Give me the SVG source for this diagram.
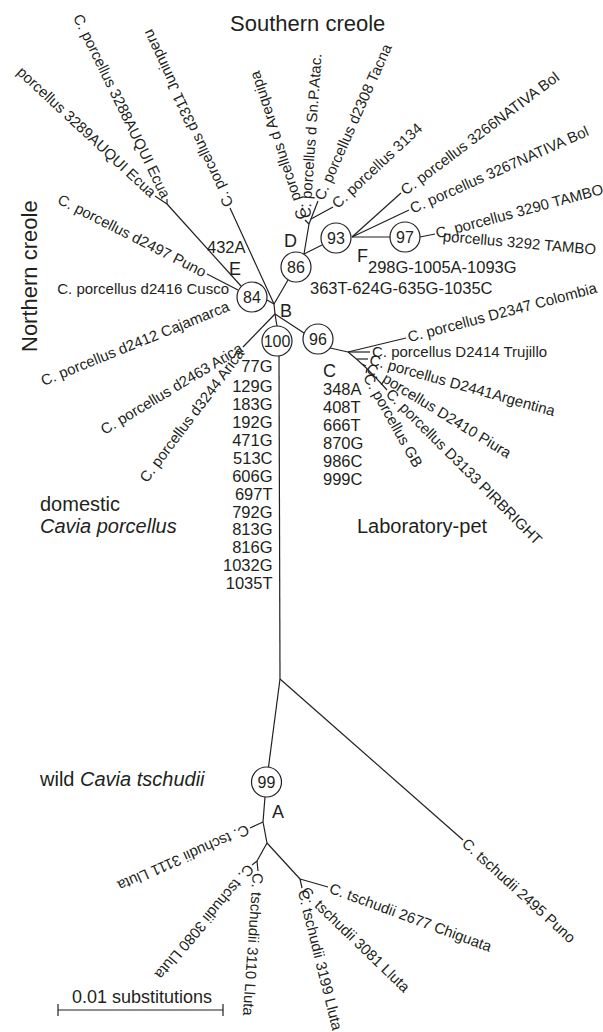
<svg xmlns="http://www.w3.org/2000/svg" width="603" height="1032" viewBox="0 0 603 1032">
<style>
text{font-family:"Liberation Sans",Arial,Helvetica,sans-serif;fill:#231f20}
.l{font-size:15px}
.e{text-anchor:end}
.m{font-size:16.5px}
.r{text-anchor:end}
.n{font-size:18px}
.g{font-size:22px}
.h{font-size:20px}
.b{font-size:16px;text-anchor:middle}
.c{fill:#fff;stroke:#231f20;stroke-width:1.2}
#connectors line,#connectors polyline,#connectors path{stroke:#231f20;stroke-width:1.2;fill:none}
</style>
<rect width="603" height="1032" fill="#fff"/>
<g id="connectors">
<line x1="279" y1="356" x2="280" y2="679"/>
<line x1="280" y1="679" x2="268.5" y2="767"/>
<line x1="280" y1="679" x2="463" y2="840"/>
<line x1="274" y1="304" x2="275" y2="314"/>
<line x1="275" y1="314" x2="277" y2="326"/>
<line x1="275" y1="314" x2="304" y2="333"/>
<line x1="275" y1="314" x2="243" y2="347"/>
<line x1="267" y1="300" x2="274" y2="304"/>
<line x1="288" y1="280" x2="274" y2="304"/>
<line x1="230" y1="208" x2="274" y2="304"/>
<line x1="241" y1="286" x2="167" y2="204"/>
<line x1="167" y1="204" x2="155" y2="196"/>
<line x1="167" y1="204" x2="167" y2="199"/>
<line x1="207" y1="274" x2="238" y2="290"/>
<line x1="304" y1="254" x2="322" y2="245"/>
<line x1="304" y1="254" x2="309" y2="224"/>
<line x1="309" y1="224" x2="318" y2="201"/>
<line x1="311" y1="219" x2="333" y2="207"/>
<line x1="309" y1="224" x2="305" y2="220"/>
<line x1="352" y1="237" x2="401" y2="193"/>
<line x1="352" y1="237" x2="409" y2="210"/>
<line x1="352" y1="237" x2="390" y2="237"/>
<line x1="420" y1="237" x2="435" y2="234"/>
<line x1="330" y1="348" x2="348" y2="352"/>
<line x1="348" y1="352" x2="406" y2="338"/>
<line x1="348" y1="352" x2="370" y2="352"/>
<path d="M348,352 Q366,366 387,390"/>
<line x1="357" y1="359" x2="368" y2="359"/>
<line x1="362" y1="364" x2="366" y2="366"/>
<line x1="367" y1="369" x2="366" y2="373"/>
<line x1="265" y1="797" x2="263" y2="822"/>
<line x1="263" y1="822" x2="267" y2="843"/>
<line x1="263" y1="822" x2="250" y2="828"/>
<line x1="267" y1="843" x2="257" y2="861"/>
<line x1="257" y1="861" x2="252" y2="865"/>
<line x1="257" y1="861" x2="258" y2="871"/>
<line x1="267" y1="843" x2="300" y2="879"/>
<line x1="300" y1="879" x2="328" y2="887"/>
<line x1="300" y1="879" x2="302" y2="888"/>
<line x1="58" y1="1010" x2="223" y2="1010"/>
<line x1="58" y1="1004" x2="58" y2="1016"/>
<line x1="223" y1="1004" x2="223" y2="1016"/>
</g>
<g id="node-100"><circle class="c" cx="277" cy="341" r="15"/><text class="b" x="277" y="347">100</text></g>
<g id="node-96"><circle class="c" cx="318" cy="339" r="15"/><text class="b" x="318" y="345">96</text></g>
<g id="node-84"><circle class="c" cx="252" cy="297" r="15"/><text class="b" x="252" y="303">84</text></g>
<g id="node-86"><circle class="c" cx="296" cy="267" r="15"/><text class="b" x="296" y="273">86</text></g>
<g id="node-93"><circle class="c" cx="336" cy="238" r="15"/><text class="b" x="336" y="244">93</text></g>
<g id="node-97"><circle class="c" cx="405" cy="237" r="15"/><text class="b" x="405" y="243">97</text></g>
<g id="node-99"><circle class="c" cx="266.5" cy="782" r="15"/><text class="b" x="266.5" y="788">99</text></g>
<g id="clade-labels">
<text class="n" x="272" y="818">A</text>
<text class="n" x="280" y="317">B</text>
<text class="n" x="323" y="377">C</text>
<text class="n" x="284" y="247">D</text>
<text class="n" x="229" y="275">E</text>
<text class="n" x="357" y="262">F</text>
</g>
<g id="mutations-A">
<text class="m r" x="272.5" y="372">77G</text>
<text class="m r" x="272.5" y="392">129G</text>
<text class="m r" x="272.5" y="410">183G</text>
<text class="m r" x="272.5" y="428">192G</text>
<text class="m r" x="272.5" y="446">471G</text>
<text class="m r" x="272.5" y="464">513C</text>
<text class="m r" x="272.5" y="482">606G</text>
<text class="m r" x="272.5" y="500">697T</text>
<text class="m r" x="272.5" y="518">792G</text>
<text class="m r" x="272.5" y="535">813G</text>
<text class="m r" x="272.5" y="553">816G</text>
<text class="m r" x="272.5" y="571">1032G</text>
<text class="m r" x="272.5" y="589">1035T</text>
</g>
<g id="mutations-C">
<text class="m" x="323" y="395">348A</text>
<text class="m" x="323" y="413">408T</text>
<text class="m" x="323" y="431">666T</text>
<text class="m" x="323" y="449">870G</text>
<text class="m" x="323" y="467">986C</text>
<text class="m" x="323" y="485">999C</text>
</g>
<g id="mutations-other">
<text class="m" x="207" y="253">432A</text>
<text class="m" x="368" y="273">298G-1005A-1093G</text>
<text class="m" x="310" y="294">363T-624G-635G-1035C</text>
</g>
<g id="group-labels">
<text class="g" x="230" y="31">Southern creole</text>
<text class="g" transform="translate(37,352) rotate(-90)">Northern creole</text>
<text class="h" x="40" y="511">domestic</text>
<text class="h" x="40" y="533" font-style="italic">Cavia porcellus</text>
<text class="h" x="357" y="533">Laboratory-pet</text>
<text class="h" x="40" y="786">wild <tspan font-style="italic">Cavia tschudii</tspan></text>
</g>
<g id="leaf-tacna"><text class="l" transform="translate(318,201) rotate(-66)" x="2" y="5">C. porcellus d2308 Tacna</text></g>
<g id="leaf-3134"><text class="l" transform="translate(333,207) rotate(-43)" x="2" y="5">C. porcellus 3134</text></g>
<g id="leaf-snpatac"><text class="l" transform="translate(305,220) rotate(-86)" x="2" y="5">C. porcellus d Sn.P.Atac.</text></g>
<g id="leaf-arequipa"><text class="l" transform="translate(303,221) rotate(-108)" x="2" y="5">C. porcellus d Arequipa</text></g>
<g id="leaf-juninperu"><text class="l" transform="translate(230,208) rotate(-115)" x="2" y="5">C. porcellus d3311 Juninperu</text></g>
<g id="leaf-3266"><text class="l" transform="translate(401,193) rotate(-37)" x="2" y="5">C. porcellus 3266NATIVA Bol</text></g>
<g id="leaf-3267"><text class="l" transform="translate(409,210) rotate(-24)" x="2" y="5">C. porcellus 3267NATIVA Bol</text></g>
<g id="leaf-3290"><text class="l" transform="translate(435,234) rotate(-15)" x="1" y="5" font-size="14.6">C. porcellus 3290 TAMBO</text></g>
<g id="leaf-3292"><text class="l" transform="translate(441,236) rotate(5)" x="2" y="5">porcellus 3292 TAMBO</text></g>
<g id="leaf-colombia"><text class="l" transform="translate(406,338) rotate(-14.8)" x="2" y="5">C. porcellus D2347 Colombia</text></g>
<g id="leaf-trujillo"><text class="l" transform="translate(370,352)" x="2" y="5">C. porcellus D2414 Trujillo</text></g>
<g id="leaf-argentina"><text class="l" transform="translate(368,359) rotate(15.7)" x="2" y="5">C. porcellus D2441Argentina</text></g>
<g id="leaf-piura"><text class="l" transform="translate(366,366) rotate(31.6)" x="2" y="5">C. porcellus D2410 Piura</text></g>
<g id="leaf-pirbright"><text class="l" transform="translate(387,390) rotate(45)" x="2" y="5">C. porcellus D3133 PIRBRIGHT</text></g>
<g id="leaf-gb"><text class="l" transform="translate(366,373) rotate(60.6)" x="2" y="5">C. porcellus GB</text></g>
<g id="leaf-2495"><text class="l" transform="translate(463,840) rotate(42.3)" x="2" y="5">C. tschudii 2495 Puno</text></g>
<g id="leaf-2677"><text class="l" transform="translate(328,887) rotate(20.3)" x="2" y="5">C. tschudii 2677 Chiguata</text></g>
<g id="leaf-3081"><text class="l" transform="translate(302,888) rotate(44)" x="2" y="5">C. tschudii 3081 Lluta</text></g>
<g id="leaf-3199"><text class="l" transform="translate(302,888) rotate(76)" x="2" y="5">C. tschudii 3199 Lluta</text></g>
<g id="leaf-3111"><text class="l" transform="translate(250,828) rotate(156)" x="2" y="5">C. tschudii 3111 Lluta</text></g>
<g id="leaf-3080"><text class="l" transform="translate(252,865) rotate(130)" x="2" y="5">C. tschudii 3080 Lluta</text></g>
<g id="leaf-3110"><text class="l" transform="translate(258,871) rotate(94)" x="2" y="5">C. tschudii 3110 Lluta</text></g>
<g id="leaf-3288"><text class="l e" transform="translate(167,199) rotate(64)" x="-2" y="5">C. porcellus 3288AUQUI Ecua</text></g>
<g id="leaf-3289"><text class="l e" transform="translate(155,196) rotate(43)" x="-2" y="5">porcellus 3289AUQUI Ecua</text></g>
<g id="leaf-d2497"><text class="l e" transform="translate(207,274) rotate(27)" x="-2" y="5">C. porcellus d2497 Puno</text></g>
<g id="leaf-cusco"><text class="l e" transform="translate(237,289)" x="-8" y="5">C. porcellus d2416 Cusco</text></g>
<g id="leaf-cajamarca"><text class="l e" transform="translate(238,302) rotate(-22)" x="-10" y="5">C. porcellus d2412 Cajamarca</text></g>
<g id="leaf-d2463"><text class="l e" transform="translate(243,346) rotate(-31)" x="-2" y="5">C. porcellus d2463 Arica</text></g>
<g id="leaf-d3244"><text class="l e" transform="translate(242,349) rotate(-53)" x="-2" y="5">C. porcellus d3244 Arica</text></g>
<g id="scale-bar"><text x="142" y="1003" font-size="18" text-anchor="middle">0.01 substitutions</text></g>
</svg>
